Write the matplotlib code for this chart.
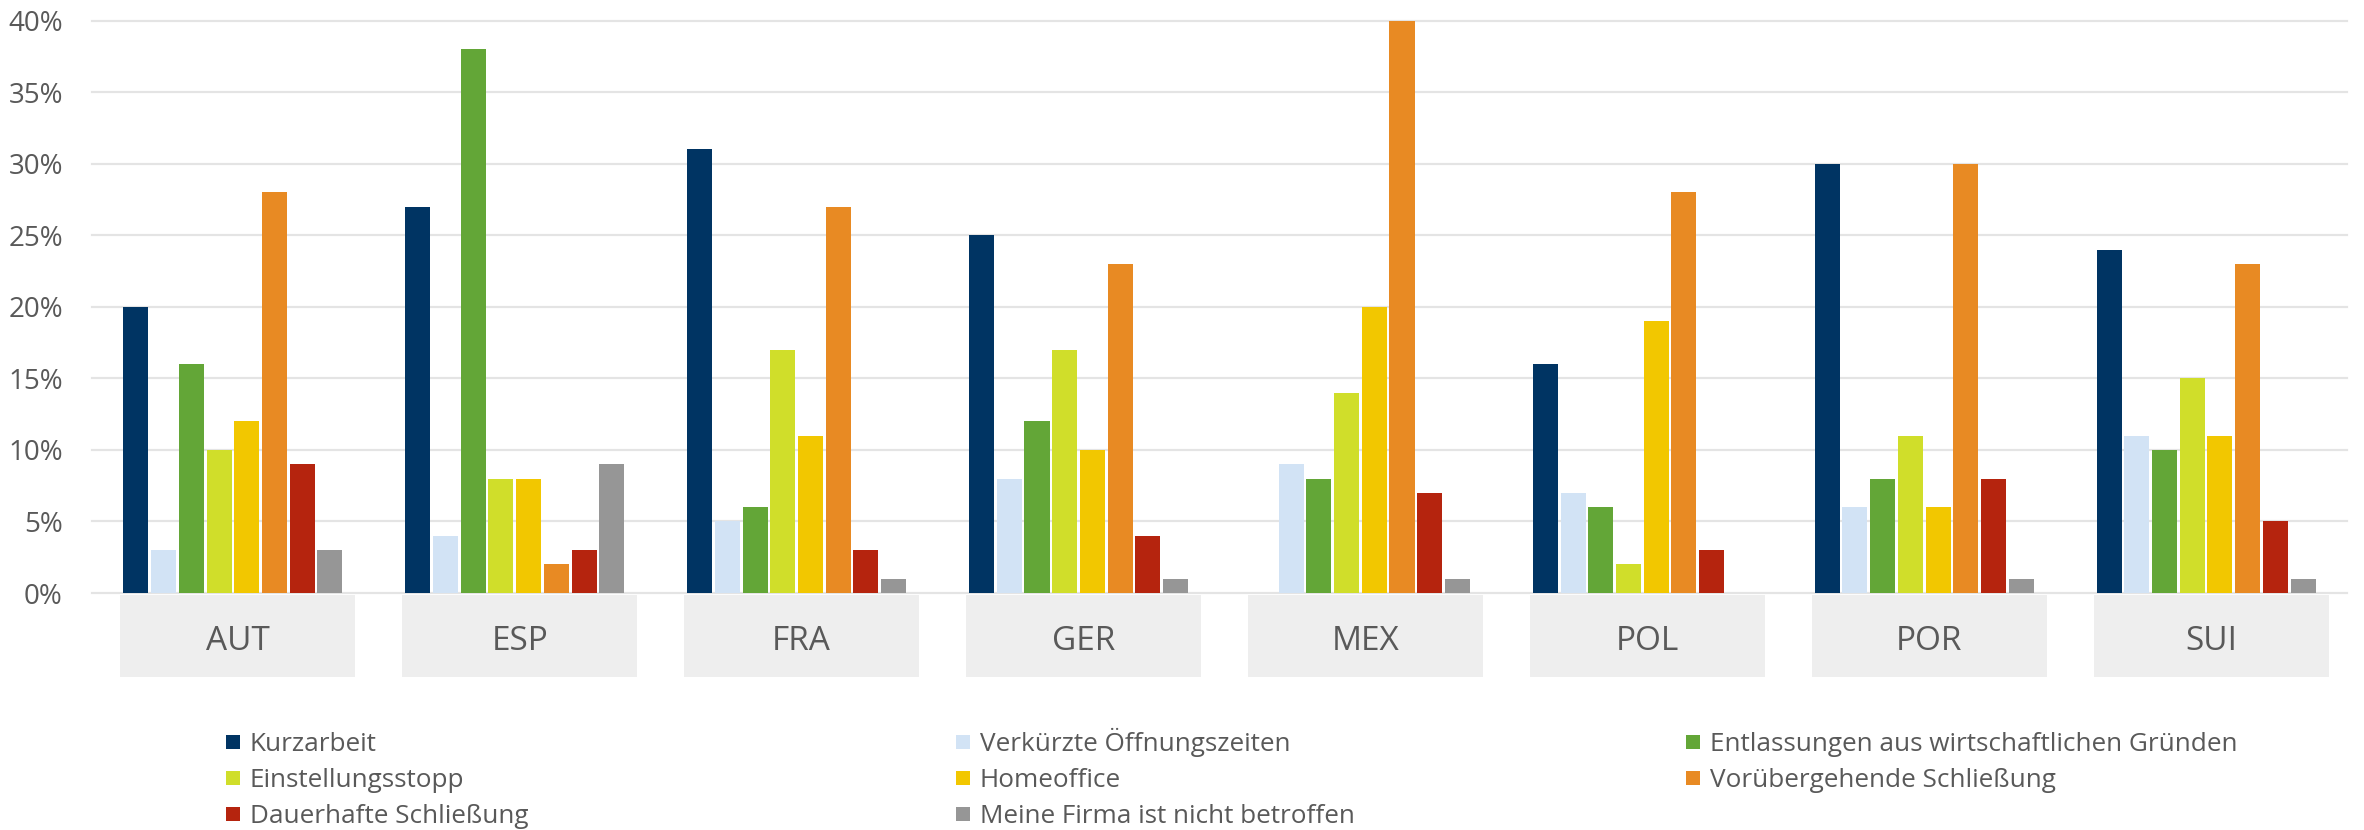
import matplotlib.pyplot as plt
import numpy as np
from matplotlib.patches import Rectangle

plt.rcParams['font.family'] = ['Open Sans', 'DejaVu Sans']

countries = ['AUT', 'ESP', 'FRA', 'GER', 'MEX', 'POL', 'POR', 'SUI']
series_names = ['Kurzarbeit', 'Verkürzte Öffnungszeiten',
                'Entlassungen aus wirtschaftlichen Gründen',
                'Einstellungsstopp', 'Homeoffice',
                'Vorübergehende Schließung', 'Dauerhafte Schließung',
                'Meine Firma ist nicht betroffen']

# percent per country, one list per answer
kurzarbeit = [20, 27, 31, 25, np.nan, 16, 30, 24]
verkuerzt = [3, 4, 5, 8, 9, 7, 6, 11]
entlassungen = [16, 38, 6, 12, 8, 6, 8, 10]
einstellungsstopp = [10, 8, 17, 17, 14, 2, 11, 15]
homeoffice = [12, 8, 11, 10, 20, 19, 6, 11]
voruebergehend = [28, 2, 27, 23, 40, 28, 30, 23]
dauerhaft = [9, 3, 3, 4, 7, 3, 8, 5]
nicht_betroffen = [3, 9, 1, 1, 1, np.nan, 1, 1]

colors = ['#003463', '#d2e3f5', '#63a637', '#d0de2a',
          '#f2c700', '#e88a23', '#b5240e', '#969696']

W, H = 2364, 830
TXT = '#595959'


def draw():
    values = [kurzarbeit, verkuerzt, entlassungen, einstellungsstopp,
              homeoffice, voruebergehend, dauerhaft, nicht_betroffen]
    fig = plt.figure(figsize=(W / 100, H / 100), dpi=100)
    ax = fig.add_axes([92 / W, 1 - 593 / H, 2255 / W, (593 - 20.7) / H])

    x = np.arange(len(countries))
    pitch = 0.0983
    for i, (name, vals) in enumerate(zip(series_names, values)):
        ax.bar(x + (i - 3.5) * pitch, vals, width=0.0887,
               color=colors[i], label=name, zorder=3)

    ax.set_xlim(-0.5, len(countries) - 0.5)
    ax.set_ylim(0, 40)
    ax.set_yticks(range(0, 41, 5))
    ax.set_yticklabels([f'{v}%' for v in range(0, 41, 5)])
    ax.set_xticks([])
    ax.tick_params(axis='y', length=0, pad=21, labelsize=20, labelcolor=TXT)
    ax.yaxis.grid(True, color='#e4e4e4', linewidth=1.6, clip_on=False)
    ax.set_axisbelow(True)
    for s in ax.spines.values():
        s.set_visible(False)

    # grey category boxes below the axis
    axh = 593 - 20.7
    trans = ax.get_xaxis_transform()
    for i, c in enumerate(countries):
        ax.add_patch(Rectangle((i + 0.0177 - 0.417, -84 / axh), 0.834,
                               82 / axh, transform=trans, clip_on=False,
                               facecolor='#eeeeee', edgecolor='none'))
        ax.text(i + 0.0177, -48 / axh, c, transform=trans, ha='center',
                va='center', fontsize=24, color=TXT)

    # legend, 3 columns filled row by row
    for k, name in enumerate(series_names):
        row, col = divmod(k, 3)
        x0 = 226 + col * 730
        yc = 742 + row * 36
        fig.patches.append(Rectangle((x0 / W, 1 - (yc + 7) / H), 14 / W,
                                     14 / H, transform=fig.transFigure,
                                     facecolor=colors[k], edgecolor='none'))
        fig.text((x0 + 24) / W, 1 - (yc + 9) / H, name, ha='left',
                 va='baseline', fontsize=18.8, color=TXT)

    fig.savefig('out.png', dpi=100)


if __name__ == '__main__':
    draw()
